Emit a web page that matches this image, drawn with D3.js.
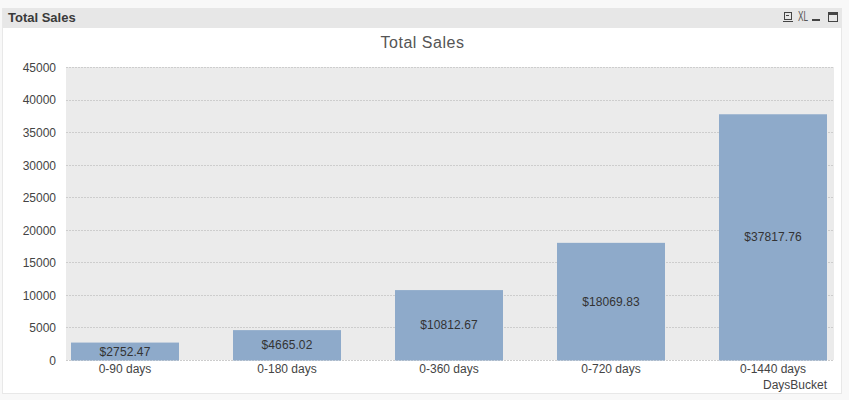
<!DOCTYPE html>
<html>
<head>
<meta charset="utf-8">
<script src="https://cdn.jsdelivr.net/npm/d3@7"></script>
<style>
	html, body { margin: 0; padding: 0; background: #f8f8f8; overflow: hidden; }
	text { font-family: "Liberation Sans", Arial, sans-serif; }
	.grid { stroke: #cdcdcd; stroke-dasharray: 2 1; shape-rendering: crispEdges; }
</style>
</head>
<body>
<svg id="chart" width="849" height="400"></svg>
<script>
const categories = ["0-90 days", "0-180 days", "0-360 days", "0-720 days", "0-1440 days"];
const sales = [2752.47, 4665.02, 10812.67, 18069.83, 37817.76];
const yTicks = [0, 5000, 10000, 15000, 20000, 25000, 30000, 35000, 40000, 45000];
const chartTitle = "Total Sales";
const axisTitle = "DaysBucket";

const svg = d3.select("#chart");

// Window frame: white body and grey caption bar
svg.append("rect").attr("x", 2.5).attr("y", 8.5).attr("width", 839).attr("height", 385)
	.attr("fill", "#fff").attr("stroke", "#e8e8e8");
svg.append("rect").attr("x", 3).attr("y", 8).attr("width", 839).attr("height", 20).attr("fill", "#e7e7e7");
svg.append("text").attr("x", 8).attr("y", 22).attr("font-size", 13).attr("font-weight", 600)
	.attr("font-family", "Open Sans").attr("fill", "#3a3a3a").text(chartTitle);

// Caption icons
const icons = svg.append("g").attr("fill", "none").attr("stroke", "#444").attr("shape-rendering", "crispEdges");
icons.append("rect").attr("x", 784.5).attr("y", 12.5).attr("width", 7).attr("height", 7);
icons.append("path").attr("d", "M783 21.5H793M786 15.5H789");
icons.append("rect").attr("x", 812).attr("y", 19).attr("width", 8).attr("height", 2).attr("fill", "#444").attr("stroke", "none");
icons.append("rect").attr("x", 828.5).attr("y", 12.5).attr("width", 9).attr("height", 9);
icons.append("rect").attr("x", 828).attr("y", 12).attr("width", 10).attr("height", 3).attr("fill", "#444").attr("stroke", "none");
svg.append("text").attr("x", 803).attr("y", 21).attr("text-anchor", "middle").attr("font-size", 14)
	.attr("textLength", 10).attr("lengthAdjust", "spacingAndGlyphs").attr("fill", "#555").text("XL");

svg.append("text").attr("x", 422.5).attr("y", 48).attr("text-anchor", "middle").attr("font-size", 16)
	.attr("letter-spacing", 0.5).attr("font-family", "DejaVu Sans").attr("fill", "#555").text(chartTitle);

// Scales
const xScale = d3.scaleBand().domain(categories).range([71, 827]).paddingInner(1 / 3).paddingOuter(0);
const yScale = d3.scaleLinear().domain([0, 45000]).range([360.5, 67.5]);

// Plot background
svg.append("rect").attr("x", 66).attr("y", 67).attr("width", 768).attr("height", 293).attr("fill", "#ebebeb");

// Gridlines
svg.selectAll(".grid").data(yTicks).enter().append("line")
	.attr("class", "grid")
	.attr("x1", 66).attr("x2", 834)
	.attr("y1", (d) => yScale(d)).attr("y2", (d) => yScale(d));

// Bars with their value labels
const barData = categories.map((c, i) => ({category: c, value: sales[i]}));
svg.selectAll(".bar").data(barData).enter().append("rect")
	.attr("class", "bar")
	.attr("x", (d) => xScale(d.category))
	.attr("y", (d) => yScale(d.value))
	.attr("width", xScale.bandwidth())
	.attr("height", (d) => yScale(0) - yScale(d.value))
	.attr("fill", "#8eaaca");

svg.selectAll(".value").data(barData).enter().append("text")
	.attr("class", "value")
	.attr("x", (d) => xScale(d.category) + xScale.bandwidth() / 2)
	.attr("y", (d) => (yScale(d.value) + yScale(0)) / 2 + 4)
	.attr("text-anchor", "middle").attr("font-size", 12).attr("letter-spacing", 0.1).attr("fill", "#333")
	.text((d) => "$" + d.value);

// Axes
const yAxis = svg.append("g").attr("transform", "translate(60,0)")
	.call(d3.axisLeft(yScale).tickValues(yTicks).tickFormat((d) => d).tickSize(0).tickPadding(4));
const xAxis = svg.append("g").attr("transform", "translate(0,362)")
	.call(d3.axisBottom(xScale).tickSize(0).tickPadding(2));
yAxis.select(".domain").remove();
xAxis.select(".domain").remove();
svg.selectAll(".tick text").attr("font-size", 12).attr("font-family", "Liberation Sans").attr("fill", "#444");

svg.append("text").attr("x", 827).attr("y", 389).attr("text-anchor", "end").attr("font-size", 12)
	.attr("fill", "#444").text(axisTitle);
</script>
</body>
</html>
